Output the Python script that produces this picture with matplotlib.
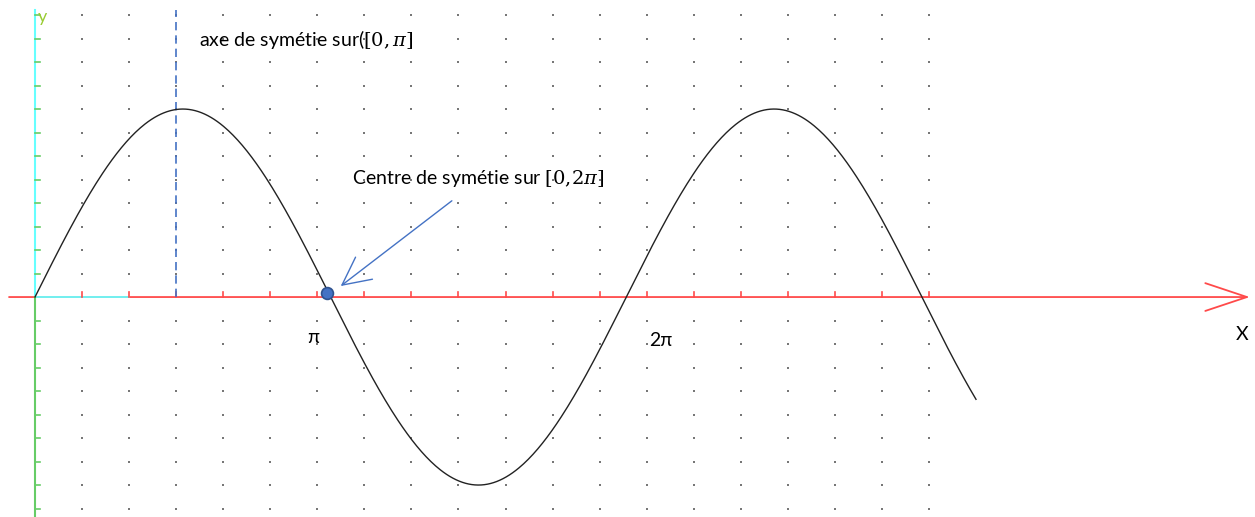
import numpy as np
import matplotlib
matplotlib.use("Agg")
import matplotlib.pyplot as plt

plt.rcParams['font.family'] = ['Lato', 'DejaVu Sans']
plt.rcParams['mathtext.fontset'] = 'dejavuserif'

# function drawn: y = sin(x) for x in [0, 10]
x_start, x_end = 0.0, 10.0
amplitude = 1.0

# grid of the drawing sheet
x_step = 0.5
y_step = 0.125
x_tick_last = 9.5
rows_above = 12
rows_below = 9

# annotations
axis_of_symmetry = 1.5           # dashed vertical line
centre_point = (3.10, 0.02)      # blue dot at the centre of symmetry
tick_names = ["π", "2π"]
tick_values = [np.pi, 2 * np.pi]
text_axis = r"axe de symétie sur($[0{,}\,\pi]$"
text_centre = r"Centre de symétie sur $[0{,}2\pi]$"

RED = '#ff4a4a'
CYAN = '#66ffff'
GREEN = '#66cc66'
BLUE = '#4472c4'

fig = plt.figure(figsize=(12.55, 5.17), dpi=100)
ax = fig.add_axes([0, 0, 1, 1])
ax.set_xlim(-0.372, 12.965)
ax.set_ylim(-1.170, 1.580)
ax.axis('off')

# dotted grid
gx = np.arange(x_step, x_tick_last + 1e-9, x_step)
gy = np.arange(-rows_below, rows_above + 1) * y_step
gy = gy[gy != 0]
GX, GY = np.meshgrid(gx, gy)
ax.scatter(GX.ravel(), GY.ravel(), s=1.0, marker='s', color='#777777',
           linewidths=0, zorder=1)

# x axis (red with open arrow), short cyan part near the origin
ax.annotate('', xy=(12.91, 0), xytext=(-0.276, 0),
            arrowprops=dict(arrowstyle='->,head_length=1.5,head_width=0.5',
                            color=RED, lw=1.3, mutation_scale=20,
                            shrinkA=0, shrinkB=0), zorder=2)
ax.plot([0, 1.0], [0, 0], color=CYAN, lw=1.3, zorder=2)
for xt in gx:
    ax.plot([xt, xt], [0, 0.027], color=RED, lw=1.2, zorder=2)
ax.text(12.83, -0.20, 'X', fontsize=14, ha='center', va='center')

# y axis: cyan above, green below
ax.plot([0, 0], [0, 1.527], color=CYAN, lw=1.5, zorder=2)
ax.plot([0, 0], [-1.17, 0], color=GREEN, lw=1.5, zorder=2)
for yt in gy:
    ax.plot([0, 0.055], [yt, yt], color=GREEN, lw=1.2, zorder=2)
ax.text(0.03, 1.49, 'y', fontsize=13, color='#99cc33', ha='left', va='center')

# the curve
x = np.linspace(x_start, x_end, 600)
ax.plot(x, amplitude * np.sin(x), color='#222222', lw=1.0, zorder=3)

# axis of symmetry
ax.plot([axis_of_symmetry, axis_of_symmetry], [0, 1.527], color=BLUE,
        lw=1.2, ls=(0, (5, 3)), zorder=2)
ax.text(1.743, 1.372, text_axis, fontsize=14, ha='left', va='center')

# centre of symmetry
ax.plot(*centre_point, 'o', ms=8.5, color=BLUE, mec='#2f528f', mew=1.2, zorder=4)
ax.annotate('', xy=(3.249, 0.0585), xytext=(4.43, 0.512),
            arrowprops=dict(arrowstyle='->,head_length=1.0,head_width=0.5',
                            color=BLUE, lw=1.0, mutation_scale=20,
                            shrinkA=0, shrinkB=0), zorder=4)
ax.text(3.37, 0.633, text_centre, fontsize=14, ha='left', va='center')

# pi labels under the axis
for name, xv, dx, yv in zip(tick_names, tick_values, [-0.19, 0.37], [-0.213, -0.229]):
    ax.text(xv + dx, yv, name, fontsize=14, ha='center', va='center')

fig.savefig('out.png', dpi=100)
